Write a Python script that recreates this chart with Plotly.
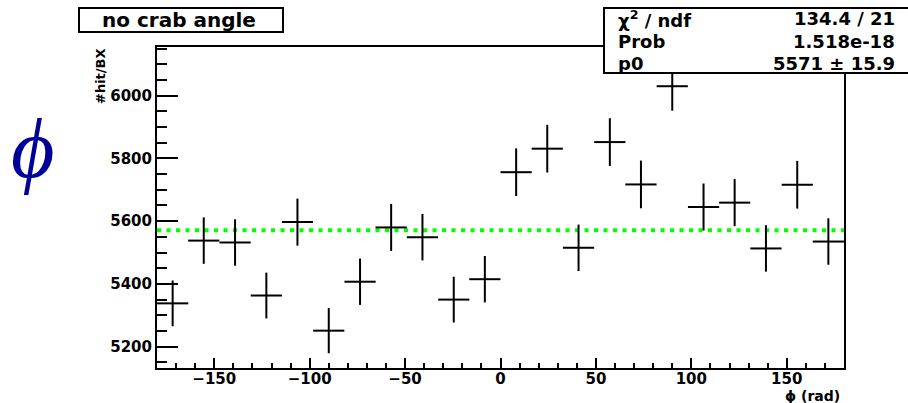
import plotly.graph_objects as go

# ---- data ----
bin_centers = [-171.8, -155.5, -139.1, -122.7, -106.4, -90.0, -73.6, -57.3, -40.9, -24.5, -8.2,
               8.2, 24.5, 40.9, 57.3, 73.6, 90.0, 106.4, 122.7, 139.1, 155.5, 171.8]
hits_per_bx = [5338, 5538, 5532, 5363, 5597, 5251, 5407, 5580, 5549, 5350, 5415,
               5756, 5831, 5515, 5852, 5717, 6030, 5645, 5659, 5513, 5716, 5535]
hit_errors = [73, 74, 74, 73, 75, 72, 74, 75, 74, 73, 74,
              76, 76, 74, 76, 76, 78, 75, 75, 74, 76, 74]
bin_half_width = 8.18
fit_p0 = 5571
x_range = [-180, 180]
y_range = [5132, 6155]
x_ticks = [-150, -100, -50, 0, 50, 100, 150]
y_ticks = [5200, 5400, 5600, 5800, 6000]
stats_labels = ["χ<sup>2</sup> / ndf", "Prob", "p0"]
stats_values = ["134.4 / 21", "1.518e-18", "5571 ± 15.9"]
title_text = "no crab angle"

W, H = 908, 403
L, R, T, B = 157, 844, 47, 368


def px(x):
    return (x - L) / (R - L)


def py(y):
    return (B - y) / (B - T)


FONT = "DejaVu Sans, sans-serif"

fig = go.Figure()

# fit line
fig.add_trace(go.Scatter(
    x=x_range, y=[fit_p0, fit_p0], mode="lines",
    line=dict(color="#00ff00", width=4, dash="4px,5.5px"),
    hoverinfo="skip", showlegend=False))

# data with error bars
fig.add_trace(go.Scatter(
    x=bin_centers, y=hits_per_bx, mode="markers",
    marker=dict(size=1, color="black"),
    error_x=dict(type="constant", value=bin_half_width, color="black", thickness=2, width=0),
    error_y=dict(type="data", array=hit_errors, color="black", thickness=2, width=0),
    showlegend=False))

axis_common = dict(
    showgrid=False, zeroline=False, showline=True, linecolor="black", linewidth=2,
    mirror=True, ticks="inside", tickcolor="black", tickwidth=2,
    tickfont=dict(family=FONT, size=15, color="black", weight="bold"),
)

fig.update_xaxes(range=x_range, tickvals=x_ticks, ticklen=10, ticklabelstandoff=-4,
                 minor=dict(ticks="inside", ticklen=5, dtick=10, tick0=0, tickcolor="black", tickwidth=2),
                 **axis_common)
fig.update_yaxes(range=y_range, tickvals=y_ticks, ticklen=21,
                 minor=dict(ticks="inside", ticklen=10, dtick=50, tick0=0, tickcolor="black", tickwidth=2),
                 **axis_common)

shapes = [
    # title box
    dict(type="rect", xref="paper", yref="paper", x0=px(79), x1=px(283), y0=py(32), y1=py(8),
         line=dict(color="black", width=2), fillcolor="white", layer="above"),
    # stats box
    dict(type="rect", xref="paper", yref="paper", x0=px(604), x1=px(912), y0=py(73), y1=py(8),
         line=dict(color="black", width=2), fillcolor="white", layer="above"),
]

annotations = [
    dict(text=title_text, xref="paper", yref="paper", x=px(179), y=py(20), xanchor="center", yanchor="middle",
         showarrow=False, font=dict(family=FONT, size=20, color="black", weight="bold")),
    dict(text="#hit/BX", xref="paper", yref="paper", x=px(100), y=py(46), xanchor="center", yanchor="top",
         textangle=-90, showarrow=False, font=dict(family=FONT, size=13, color="black", weight="bold")),
    dict(text="ϕ (rad)", xref="paper", yref="paper", x=px(842), y=py(396), xanchor="right", yanchor="middle",
         showarrow=False, font=dict(family=FONT, size=14, color="black", weight="bold")),
    dict(text="ϕ", xref="paper", yref="paper", x=px(32), y=py(148), xanchor="center", yanchor="middle",
         showarrow=False, font=dict(family="Liberation Serif, serif", size=84, color="#000099", style="italic")),
]

row_y = [19, 41, 63]
for lab, val, yy in zip(stats_labels, stats_values, row_y):
    annotations.append(dict(text=lab, xref="paper", yref="paper", x=px(616), y=py(yy), xanchor="left",
                            yanchor="middle", showarrow=False,
                            font=dict(family=FONT, size=18, color="black", weight="bold")))
    annotations.append(dict(text=val, xref="paper", yref="paper", x=px(897), y=py(yy), xanchor="right",
                            yanchor="middle", showarrow=False,
                            font=dict(family=FONT, size=18, color="black", weight="bold")))

fig.update_layout(
    width=W, height=H, margin=dict(l=L, r=W - R, t=T, b=H - B, pad=0),
    plot_bgcolor="white", paper_bgcolor="white",
    shapes=shapes, annotations=annotations, showlegend=False,
)

fig.write_html("out.html")
